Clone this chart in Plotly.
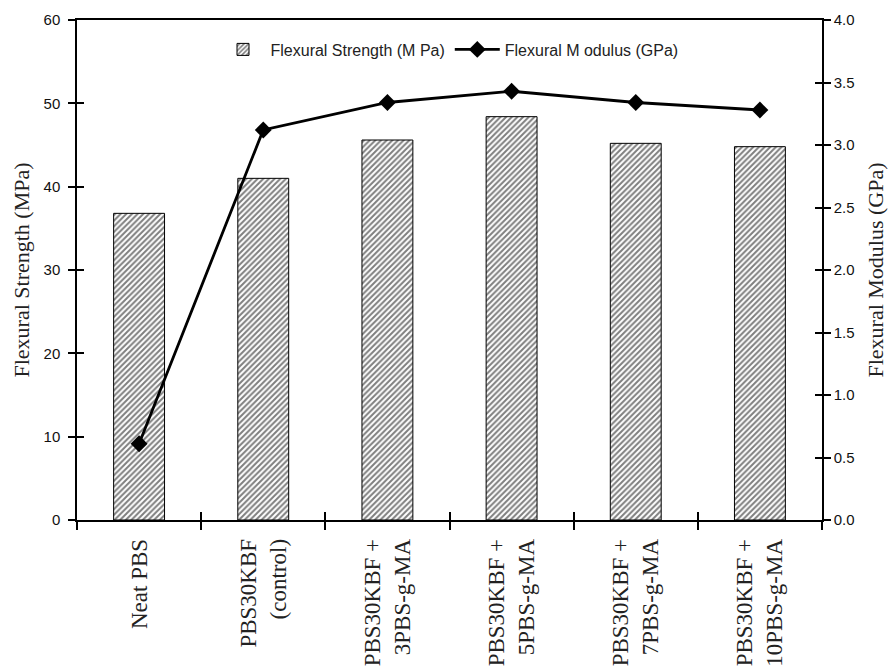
import plotly.graph_objects as go

categories = ["Neat PBS", "PBS30KBF<br>(control)", "PBS30KBF +<br>3PBS-g-MA",
              "PBS30KBF +<br>5PBS-g-MA", "PBS30KBF +<br>7PBS-g-MA", "PBS30KBF +<br>10PBS-g-MA"]
strength_mpa = [36.8, 41.0, 45.6, 48.4, 45.2, 44.8]
modulus_gpa = [0.61, 3.12, 3.34, 3.43, 3.34, 3.28]
left_ticks = [0, 10, 20, 30, 40, 50, 60]
right_ticks = [0.0, 0.5, 1.0, 1.5, 2.0, 2.5, 3.0, 3.5, 4.0]

tickfont = dict(family="Liberation Sans, Arial", size=15, color="#111")
serif = "Liberation Serif, Times New Roman"

fig = go.Figure()
fig.add_trace(go.Bar(
    x=categories, y=strength_mpa, name="Flexural Strength (M Pa)",
    width=0.41,
    marker=dict(color="white", line=dict(color="black", width=1),
                pattern=dict(shape="/", fgcolor="black", bgcolor="white", size=4, solidity=0.5)),
    yaxis="y"))
fig.add_trace(go.Scatter(
    x=categories, y=modulus_gpa, name="Flexural M odulus (GPa)",
    mode="lines+markers",
    line=dict(color="black", width=2.8),
    marker=dict(symbol="diamond", size=13, color="black"),
    yaxis="y2"))

fig.update_layout(
    width=892, height=670,
    margin=dict(l=77, r=70, t=20, b=150),
    paper_bgcolor="white", plot_bgcolor="white",
    showlegend=True,
    legend=dict(orientation="h", x=0.5, xanchor="center", y=0.975, yanchor="top",
                font=dict(family="Liberation Sans, Arial", size=16, color="#222"),
                bgcolor="rgba(0,0,0,0)", itemwidth=45, tracegroupgap=0),
    xaxis=dict(type="category", tickangle=-90, tickson="boundaries", automargin=False,
               ticks="outside", ticklen=8, tickcolor="black", tickwidth=1.5,
               ticklabelstandoff=8,
               showline=True, linecolor="black", linewidth=1.5, mirror=True,
               tickfont=dict(family=serif, size=23, color="#222"),
               showgrid=False, zeroline=False),
    xaxis2=dict(type="linear", range=[-0.5, 5.5], tick0=0.5, dtick=1, automargin=False,
                overlaying="x", ticks="inside", ticklen=8, tickcolor="black", tickwidth=1.5,
                showticklabels=False, showgrid=False, zeroline=False, showline=False),
    yaxis=dict(range=[0, 60], tickvals=left_ticks, ticks="outside", ticklen=7, automargin=False,
               tickcolor="black", tickwidth=1.5, ticklabelstandoff=5,
               showline=True, linecolor="black", linewidth=1.5,
               tickfont=tickfont, showgrid=False, zeroline=False,
               title=dict(text="Flexural Strength (MPa)", font=dict(family=serif, size=22, color="#222"),
                          standoff=8)),
    yaxis3=dict(range=[0, 60], tickvals=left_ticks, ticks="inside", ticklen=7, automargin=False,
                tickcolor="black", tickwidth=1.5, overlaying="y", side="left",
                showticklabels=False, showgrid=False, zeroline=False, showline=False),
    yaxis2=dict(range=[0, 4.0], tickvals=right_ticks, tickformat=".1f", ticks="outside", ticklen=7,
                tickcolor="black", tickwidth=1.5, overlaying="y", side="right", automargin=False,
                showline=True, linecolor="black", linewidth=1.5,
                tickfont=tickfont, showgrid=False, zeroline=False,
                title=dict(text="Flexural Modulus (GPa)", font=dict(family=serif, size=22, color="#222"),
                           standoff=14)),
    yaxis4=dict(range=[0, 4.0], tickvals=right_ticks, ticks="inside", ticklen=7, automargin=False,
                tickcolor="black", tickwidth=1.5, overlaying="y", side="right",
                showticklabels=False, showgrid=False, zeroline=False, showline=False),
)
# invisible helper traces so the inside-tick axes are rendered
fig.add_trace(go.Scatter(x=[0], y=[0], xaxis="x2", yaxis="y3", mode="markers",
                         marker=dict(opacity=0), showlegend=False, hoverinfo="skip"))
fig.add_trace(go.Scatter(x=[0], y=[0], xaxis="x2", yaxis="y4", mode="markers",
                         marker=dict(opacity=0), showlegend=False, hoverinfo="skip"))

fig.write_html("out.html")
